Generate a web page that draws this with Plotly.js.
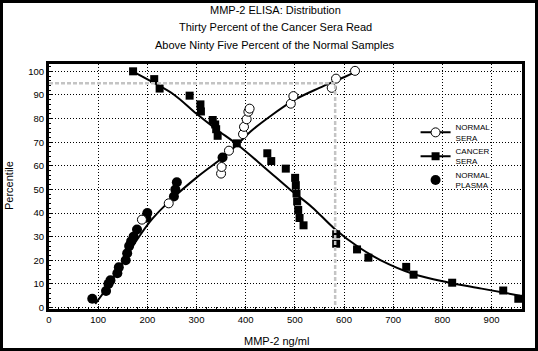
<!DOCTYPE html>
<html><head><meta charset="utf-8">
<script src="https://cdn.plot.ly/plotly-3.0.1.min.js"></script>
<style>
html,body{margin:0;padding:0;background:#fff}
#wrap{position:relative;width:538px;height:351px}
#chart{width:538px;height:351px}
#frame{position:absolute;left:0;top:0;width:538px;height:351px;box-sizing:border-box;border:3px solid #000;pointer-events:none}
</style></head>
<body><div id="wrap"><div id="chart"></div><div id="frame"></div></div>
<script>
// Normal sera (open circles)
const normalSeraX = [189, 243.5, 350, 351, 366, 394.6, 396.6, 402, 405.5, 408, 491.8, 497, 575, 583.7, 622.4];
const normalSeraY = [37.2, 44.1, 56.7, 59.5, 66.4, 73.4, 76.5, 79.7, 82.9, 84.2, 86.3, 89.5, 93, 96.9, 100.2];
// Cancer sera (filled squares)
const cancerX = [171, 214, 225, 286, 308, 309, 333, 338, 340, 343, 382, 444, 452, 481.6, 500.6, 502, 503.4, 504.7, 506.8, 509.6, 517.7, 584, 584, 626.5, 649.6, 726.5, 741.5, 820, 923.8, 954.5];
const cancerY = [100, 96.7, 92.7, 89.7, 86, 83, 79.4, 77.5, 75.5, 72.7, 69.5, 65.3, 62, 58.8, 54.9, 51.8, 48.3, 44.9, 41.3, 37.9, 34.8, 31, 27, 24.6, 21.1, 17.2, 13.9, 10.5, 7.2, 3.7];
// Normal plasma (filled circles)
const plasmaX = [88, 116, 121, 125, 139, 142, 156, 159, 163, 167, 172, 179, 198, 200, 254, 257, 260, 353];
const plasmaY = [3.7, 7, 10, 11.5, 14.5, 17, 20, 23, 26, 28, 30, 33, 38, 40, 47, 50, 53, 63.5];
// Fitted curves
const normalFitX = [94, 120, 150, 180, 210, 250, 300, 350, 383, 410, 450, 500, 550, 600, 625];
const normalFitY = [1.5, 9, 19, 29, 37.5, 46, 55, 63, 69, 74.5, 81, 88, 93, 97.5, 100];
const cancerFitX = [170, 210, 255, 300, 340, 383, 440, 490, 535, 580, 630, 675, 740, 810, 880, 958];
const cancerFitY = [100, 95.5, 90, 82, 75.5, 69, 59, 50, 42.5, 33.5, 25.5, 20, 14.3, 10.7, 8, 5];
// 95th percentile cut-off of normal samples
const cutoffX = [0, 582, 582];
const cutoffY = [95, 95, 0];
// Labels
const legendNames = ['NORMAL<br>SERA', 'CANCER<br>SERA', 'NORMAL<br>PLASMA'];
const titleLines = ['MMP-2 ELISA: Distribution', 'Thirty Percent of the Cancer Sera Read', 'Above Ninty Five Percent of the Normal Samples'];
const xTitle = 'MMP-2 ng/ml';
const yTitle = 'Percentile';

const FONT = 'Liberation Sans, Arial, sans-serif';

const traces = [
  {x: normalFitX, y: normalFitY, mode: 'lines', line: {color: '#000', width: 2, shape: 'spline'}, showlegend: false, hoverinfo: 'skip'},
  {x: cancerFitX, y: cancerFitY, mode: 'lines', line: {color: '#000', width: 2, shape: 'spline'}, showlegend: false, hoverinfo: 'skip'},
  {x: plasmaX, y: plasmaY, mode: 'markers', marker: {symbol: 'circle', size: 10, color: '#000'}, showlegend: false},
  {x: normalSeraX, y: normalSeraY, mode: 'markers', marker: {symbol: 'circle', size: 9, color: '#fff', line: {color: '#000', width: 1}}, showlegend: false},
  {x: cancerX, y: cancerY, mode: 'markers', marker: {symbol: 'square', size: 8, color: '#000'}, showlegend: false},
  {x: cutoffX, y: cutoffY, mode: 'lines', line: {color: '#c4c4c4', width: 2.5, dash: '4px,2px'}, showlegend: false, hoverinfo: 'skip'},
  // legend entries
  {x: [null], y: [null], name: legendNames[0], legendgroup: 'a', mode: 'lines+markers', line: {color: '#000', width: 2}, marker: {symbol: 'circle', size: 9, color: '#fff', line: {color: '#000', width: 1}}},
  {x: [null], y: [null], name: legendNames[1], legendgroup: 'b', mode: 'lines+markers', line: {color: '#000', width: 2}, marker: {symbol: 'square', size: 8, color: '#000'}},
  {x: [null], y: [null], name: legendNames[2], legendgroup: 'c', mode: 'markers', marker: {symbol: 'circle', size: 10, color: '#000'}}
];

const axisCommon = {
  showline: true, linecolor: '#000', linewidth: 3, mirror: true,
  showgrid: true, gridcolor: '#000', gridwidth: 1, griddash: '1px,2px',
  zeroline: false, ticks: 'inside', ticklen: 3, tickcolor: '#000', tickwidth: 1,
  tickfont: {family: FONT, size: 9.5, color: '#000'}
};

const titleYs = [1.222, 1.149, 1.076];
const annotations = titleLines.map((t, i) => ({
  text: t, xref: 'paper', yref: 'paper', x: 0.478, y: titleYs[i],
  xanchor: 'center', yanchor: 'middle', showarrow: false,
  font: {family: FONT, size: 11, color: '#000'}
}));
annotations.push({text: xTitle, xref: 'paper', yref: 'paper', x: 0.48, y: -0.13, xanchor: 'center', yanchor: 'middle', showarrow: false, font: {family: FONT, size: 11, color: '#000'}});
annotations.push({text: yTitle, xref: 'paper', yref: 'paper', x: -0.083, y: 0.505, xanchor: 'center', yanchor: 'middle', textangle: -90, showarrow: false, font: {family: FONT, size: 11, color: '#000'}});

const layout = {
  width: 538, height: 351,
  margin: {l: 49, r: 16, t: 64, b: 42, pad: 0},
  paper_bgcolor: '#fff', plot_bgcolor: '#fff',
  font: {family: FONT, color: '#000'},
  xaxis: Object.assign({}, axisCommon, {range: [0, 962], dtick: 100, tick0: 0,
    minor: {dtick: 20, ticks: 'inside', ticklen: 2, tickcolor: '#000', showgrid: false}}),
  yaxis: Object.assign({}, axisCommon, {range: [-0.63, 103.1], dtick: 10, tick0: 0,
    minor: {dtick: 2, ticks: 'inside', ticklen: 2, tickcolor: '#000', showgrid: false}}),
  showlegend: true,
  legend: {x: 0.775, y: 0.79, xanchor: 'left', yanchor: 'top', bgcolor: 'rgba(0,0,0,0)',
    font: {family: FONT, size: 8, color: '#000'}, itemwidth: 30, traceorder: 'grouped', tracegroupgap: 0},
  annotations: annotations
};

Plotly.newPlot('chart', traces, layout, {displayModeBar: false, staticPlot: true});
</script>
</body></html>
